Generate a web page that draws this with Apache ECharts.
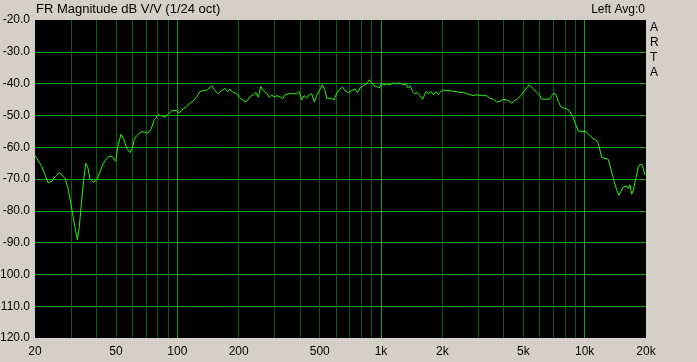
<!DOCTYPE html>
<html><head><meta charset="utf-8">
<script src="https://cdn.jsdelivr.net/npm/echarts@6/dist/echarts.min.js"></script>
<style>html,body{margin:0;padding:0;background:#d4d0c8}#c{width:697px;height:362px}</style>
</head><body><div id="c"></div>
<script>
const freq=[20.0,20.4,21.6,23.2,24.2,25.1,26.2,27.0,28.1,29.1,30.0,30.8,31.7,32.3,33.0,33.9,34.8,35.5,36.3,37.2,38.7,40.2,41.7,43.3,45.0,46.7,47.9,49.8,51.0,52.9,54.3,56.4,58.5,60.1,61.3,63.1,66.3,68.8,71.5,74.2,77.1,80.6,83.8,87.0,90.3,93.8,99.3,102.2,105.0,111.1,115.4,119.8,124.5,129.2,134.1,140.3,147.5,153.0,158.9,165.1,171.3,175.9,181.3,188.2,194.1,201.4,209.3,217.3,227.4,236.0,243.3,249.7,256.6,264.3,274.6,282.8,290.5,298.2,307.4,319.2,329.0,337.7,350.5,385.5,395.6,407.9,418.6,431.5,444.4,456.7,470.3,483.2,497.7,514.8,530.8,541.1,561.7,587.7,605.9,629.0,648.4,665.5,690.8,717.8,745.1,764.7,788.5,818.5,850.4,875.9,900.0,923.7,952.2,980.7,1008,1034,1066,1107,1149,1194,1239,1278,1326,1361,1388,1431,1468,1507,1554,1602,1663,1707,1760,1806,1862,1911,1964,2022,2101,2181,2264,2353,2443,2535,2634,2735,2839,2950,3122,3303,3429,3560,3698,3840,3986,4217,4383,4549,4721,4906,5093,5328,5594,5812,5985,6150,6384,6702,6887,7068,7230,7420,7625,7853,8159,8471,8733,8963,9304,9668,10150,10418,10949,11366,11665,12122,12583,13061,13421,13822,14360,14738,15026,15472,15953,16373,16692,17015,17327,17863,18333,18691,19185,19776];
const dB=[-62.6,-63.0,-66.1,-71.2,-70.7,-69.3,-68.1,-68.5,-69.8,-73.0,-77.7,-81.9,-86.6,-89.1,-85.1,-76.7,-69.3,-65.1,-66.2,-69.8,-71.0,-70.3,-67.7,-65.1,-63.5,-62.8,-63.0,-64.4,-59.8,-55.9,-57.2,-60.3,-61.7,-60.3,-57.7,-56.4,-55.2,-55.2,-55.6,-54.4,-51.4,-49.8,-50.1,-50.6,-49.6,-48.5,-48.5,-49.3,-48.3,-47.2,-46.2,-45.4,-44.1,-42.5,-42.2,-42.0,-40.7,-42.2,-43.2,-42.2,-41.5,-42.5,-41.7,-42.8,-43.0,-44.3,-45.1,-45.8,-44.1,-43.5,-42.8,-44.3,-40.9,-42.2,-43.0,-44.3,-43.5,-44.3,-43.8,-44.1,-44.8,-43.5,-43.2,-43.2,-42.5,-45.1,-43.8,-44.6,-43.5,-43.2,-45.8,-43.8,-42.2,-40.4,-42.2,-44.6,-44.6,-45.1,-43.0,-41.7,-41.1,-42.2,-42.8,-42.2,-41.7,-42.8,-41.4,-40.7,-40.1,-38.8,-39.7,-40.7,-40.9,-41.4,-39.8,-40.4,-40.1,-40.4,-39.8,-40.1,-39.7,-40.4,-40.1,-41.4,-40.7,-42.5,-43.2,-42.8,-43.8,-44.9,-42.5,-43.2,-42.5,-43.5,-42.5,-43.5,-42.5,-42.0,-42.2,-42.2,-42.5,-42.5,-42.8,-42.8,-43.2,-43.5,-43.8,-43.5,-43.8,-43.8,-44.6,-44.9,-45.8,-45.6,-44.9,-45.3,-46.2,-45.3,-44.6,-43.5,-42.0,-40.4,-41.6,-42.8,-43.5,-44.9,-44.9,-44.9,-43.8,-43.0,-43.5,-45.6,-47.2,-47.7,-47.9,-48.8,-50.4,-52.3,-54.9,-55.1,-55.1,-55.9,-57.2,-57.7,-58.8,-63.2,-63.5,-63.8,-66.7,-69.8,-73.5,-75.1,-74.8,-72.5,-72.2,-73.0,-71.9,-74.8,-73.5,-69.5,-66.3,-65.4,-65.6,-68.8];
const xLabelValues=[20,50,100,200,500,1000,2000,5000,10000,20000];
const xLabelTexts=['20','50','100','200','500','1k','2k','5k','10k','20k'];
const majorFreqs=[100,1000,10000];
const minorFreqs=[30,40,50,60,70,80,90,200,300,400,500,600,700,800,900,2000,3000,4000,5000,6000,7000,8000,9000];

const n=Math.min(freq.length,dB.length);
const curve=[];
for(let i=0;i<n;i++) curve.push([freq[i],dB[i]]);

const FONT='"Liberation Sans", Arial, sans-serif';
const MINOR='#0b5e0b', MAJOR='#13a213';
function gridSeries(name,items,color){
  return {type:'line',name:name,data:[],silent:true,z:1,
    markLine:{silent:true,symbol:'none',animation:false,
      lineStyle:{color:color,width:1,type:'solid',opacity:1},
      label:{show:false},emphasis:{disabled:true},
      data:items}};
}
const chart=echarts.init(document.getElementById('c'));
chart.setOption({
  animation:false,
  backgroundColor:'#d4d0c8',
  textStyle:{fontFamily:FONT},
  grid:{left:35,right:51,top:20,bottom:24,containLabel:false,outerBoundsMode:'none',show:true,backgroundColor:'#000000',borderWidth:0},
  title:[
    {text:'FR Magnitude dB V/V (1/24 oct)',left:36,top:3,padding:0,textStyle:{fontSize:13,fontWeight:'normal',color:'#000',fontFamily:FONT}},
    {text:'Left Avg:0',right:52,top:4,padding:0,textStyle:{fontSize:12,fontWeight:'normal',color:'#000',fontFamily:FONT}},
    {text:'A\nR\nT\nA',left:650,top:20,padding:0,textStyle:{fontSize:12,lineHeight:15,fontWeight:'normal',color:'#000',fontFamily:FONT}}
  ],
  xAxis:{type:'log',logBase:10,min:20,max:20000,axisLine:{show:false},axisTick:{show:false},axisLabel:{show:false},splitLine:{show:false}},
  yAxis:{type:'value',min:-120,max:-20,interval:10,axisLine:{show:false},axisTick:{show:false},
    axisLabel:{margin:5,fontSize:12,color:'#000',fontFamily:FONT,formatter:v=>v.toFixed(1)},
    splitLine:{show:true,showMinLine:false,showMaxLine:false,lineStyle:{color:MAJOR,width:1,type:'solid'}},z:2},
  series:[
    gridSeries('minorV',minorFreqs.map(v=>({xAxis:v})),MINOR),
    gridSeries('majorV',majorFreqs.map(v=>({xAxis:v})),MAJOR),
    {type:'line',name:'xlabels',data:[],silent:true,z:1,
      markLine:{silent:true,symbol:'none',animation:false,
        lineStyle:{color:'rgba(0,0,0,0)',width:0},
        label:{show:true,position:'start',distance:8,color:'#000',fontSize:12,fontFamily:FONT},
        data:xLabelValues.map((v,i)=>({xAxis:v,label:{formatter:xLabelTexts[i]}}))}},
    {type:'line',name:'FR',data:curve,z:10,showSymbol:false,symbol:'none',smooth:false,
      lineStyle:{color:'#2cf50e',width:1},itemStyle:{color:'#2cf50e'}}
  ]
});
</script></body></html>
